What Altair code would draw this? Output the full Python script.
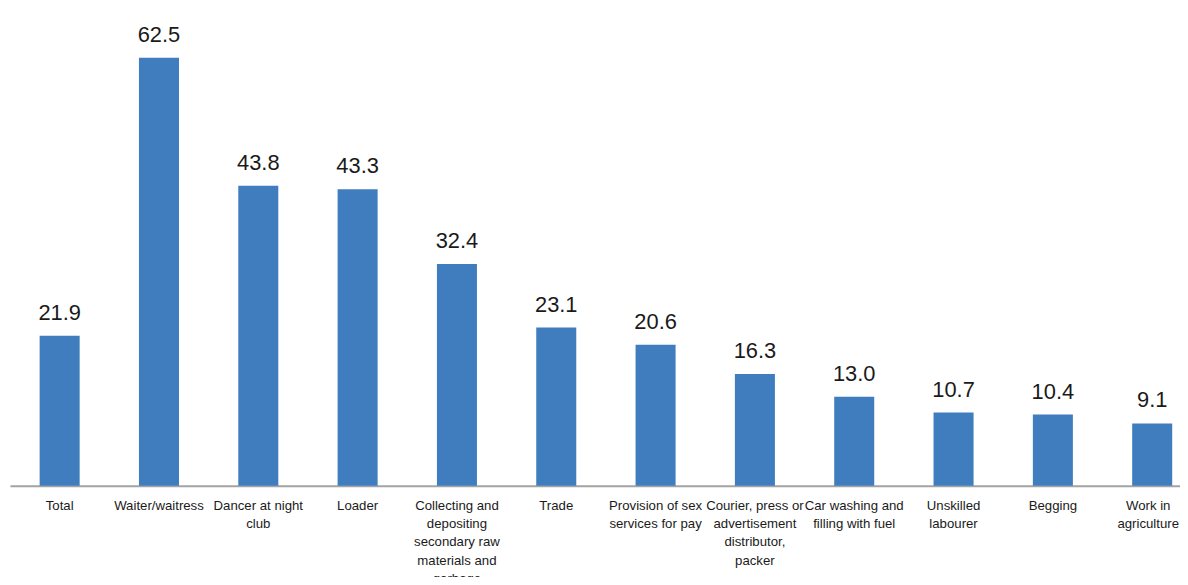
import altair as alt
import pandas as pd

categories = [
    "Total", "Waiter/waitress", "Dancer at night|club", "Loader",
    "Collecting and|depositing|secondary raw|materials and|garbage",
    "Trade", "Provision of sex|services for pay",
    "Courier, press or|advertisement|distributor,|packer",
    "Car washing and|filling with fuel", "Unskilled|labourer", "Begging",
    "Work in|agriculture",
]
values = [21.9, 62.5, 43.8, 43.3, 32.4, 23.1, 20.6, 16.3, 13.0, 10.7, 10.4, 9.1]
value_labels = [f"{v:.1f}" for v in values]

df = pd.DataFrame({"cat": categories, "val": values, "lab": value_labels})

FONT = "Liberation Sans, Arial, sans-serif"

x = alt.X(
    "cat:N", sort=categories, title=None,
    scale=alt.Scale(range=[0, 1200], paddingInner=0.597, paddingOuter=0.2985),
    axis=alt.Axis(
        labelExpr="split(datum.label, '|')", labelAngle=0, labelLimit=0,
        labelFont=FONT, labelFontSize=13.3, labelColor="#1a1a1a",
        labelLineHeight=18.3, labelPadding=13, labelBaseline="top",
        labelOffset=alt.condition(
            "datum.value == 'Work in|agriculture'", alt.value(-4), alt.value(0)
        ),
        ticks=False, domainColor="#A3A3A3", domainWidth=2, grid=False,
    ),
)
y = alt.Y("val:Q", title=None, scale=alt.Scale(domain=[0, 69.5], nice=False), axis=None)

bars = alt.Chart(df).mark_bar(color="#3F7DBF").encode(x=x, y=y)
text = alt.Chart(df).mark_text(
    font=FONT, fontSize=22, color="#1a1a1a", baseline="alphabetic", dy=-16
).encode(x=alt.X("cat:N", sort=categories), y="val:Q", text="lab:N")

chart = (bars + text).properties(
    width=1178, height=479,
    autosize=alt.AutoSizeParams(type="none"),
    padding={"left": 2, "top": 0, "right": 0, "bottom": 90},
).configure_view(stroke=None)

chart.save("out.html", embed_options={"renderer": "svg", "actions": False})
